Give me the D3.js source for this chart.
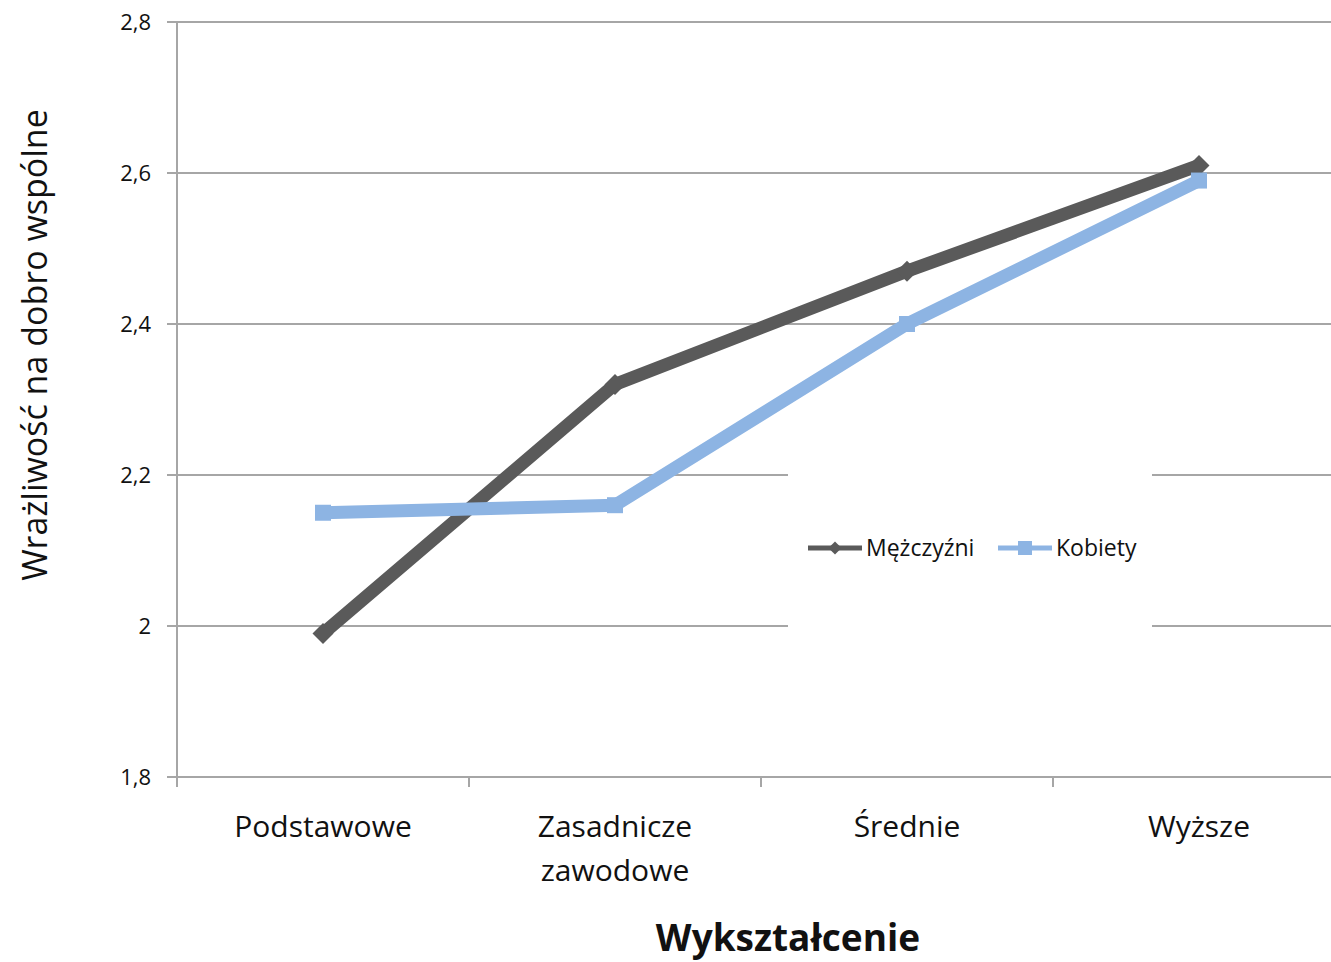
<!DOCTYPE html>
<html>
<head>
<meta charset="utf-8">
<script src="https://cdn.jsdelivr.net/npm/d3@7"></script>
<style>
  body { margin: 0; background: #fff; }
  svg { display: block; font-family: "Open Sans", "Noto Sans", sans-serif; }
</style>
</head>
<body>
<div id="container"></div>
<script>
const width = 1331;
const height = 962;

// DATA
const categories = ["Podstawowe", "Zasadnicze zawodowe", "Średnie", "Wyższe"];
const categoryLines = [["Podstawowe"], ["Zasadnicze", "zawodowe"], ["Średnie"], ["Wyższe"]];
const men = [1.99, 2.32, 2.47, 2.61];
const women = [2.15, 2.16, 2.40, 2.59];
const yTicks = [1.8, 2.0, 2.2, 2.4, 2.6, 2.8];
const seriesNames = ["Mężczyźni", "Kobiety"];

const svg = d3.select("div#container").append("svg")
    .attr("width", width)
    .attr("height", height);

// SCALES
const x = d3.scaleBand().domain(categories).range([177, 1345]);
const y = d3.scaleLinear().domain([1.8, 2.8]).range([777, 22]);

// GRID
svg.append("g")
    .selectAll("line")
    .data(yTicks)
    .enter()
    .append("line")
    .attr("x1", 167)
    .attr("x2", width)
    .attr("y1", d => y(d))
    .attr("y2", d => y(d))
    .attr("stroke", "#a6a6a6")
    .attr("stroke-width", 2);

// Y AXIS
svg.append("line")
    .attr("x1", 177).attr("x2", 177)
    .attr("y1", y(2.8)).attr("y2", 787)
    .attr("stroke", "#a6a6a6")
    .attr("stroke-width", 2);

svg.append("g")
    .selectAll("text")
    .data(yTicks)
    .enter()
    .append("text")
    .attr("x", 151)
    .attr("y", d => y(d))
    .attr("dy", "0.35em")
    .attr("text-anchor", "end")
    .attr("font-size", 22)
    .attr("fill", "#111")
    .text(d => d === 2 ? "2" : d3.format(".1f")(d).replace(".", ","));

// X AXIS ticks
svg.append("g")
    .selectAll("line")
    .data(categories)
    .enter()
    .append("line")
    .attr("x1", d => x(d))
    .attr("x2", d => x(d))
    .attr("y1", 777)
    .attr("y2", 787)
    .attr("stroke", "#a6a6a6")
    .attr("stroke-width", 2);

const xl = svg.append("g")
    .selectAll("text")
    .data(categories)
    .enter()
    .append("text")
    .attr("text-anchor", "middle")
    .attr("font-size", 30)
    .attr("fill", "#111");

xl.each(function (d, i) {
    const t = d3.select(this);
    categoryLines[i].forEach((s, j) => {
        t.append("tspan")
            .attr("x", x(d) + x.bandwidth() / 2)
            .attr("y", 837 + j * 44)
            .text(s);
    });
});

// TITLES
svg.append("text")
    .attr("x", 788)
    .attr("y", 951)
    .attr("text-anchor", "middle")
    .attr("font-size", 37)
    .attr("font-weight", "bold")
    .attr("fill", "#111")
    .text("Wykształcenie");

svg.append("text")
    .attr("transform", "translate(47,345) rotate(-90)")
    .attr("text-anchor", "middle")
    .attr("font-size", 34)
    .attr("fill", "#111")
    .text("Wrażliwość na dobro wspólne");

// LINES
const cx = d => x(d) + x.bandwidth() / 2;
const line = d3.line()
    .x((d, i) => cx(categories[i]))
    .y(d => y(d));

const colors = ["#5a5a5a", "#8db4e3"];
const data = [men, women];

data.forEach((vals, k) => {
    svg.append("path")
        .attr("d", line(vals))
        .attr("fill", "none")
        .attr("stroke", colors[k])
        .attr("stroke-width", 13)
        .attr("stroke-linejoin", "miter");
});

// markers
const diamond = d3.symbol().type(d3.symbolDiamond2).size(280);
svg.append("g")
    .selectAll("path")
    .data(men)
    .enter()
    .append("path")
    .attr("d", diamond)
    .attr("transform", (d, i) => "translate(" + cx(categories[i]) + "," + y(d) + ")")
    .attr("fill", colors[0]);

svg.append("g")
    .selectAll("rect")
    .data(women)
    .enter()
    .append("rect")
    .attr("x", (d, i) => cx(categories[i]) - 8)
    .attr("y", d => y(d) - 8)
    .attr("width", 16)
    .attr("height", 16)
    .attr("fill", colors[1]);

// LEGEND
const lg = svg.append("g");
lg.append("rect")
    .attr("x", 788).attr("y", 470)
    .attr("width", 364).attr("height", 163)
    .attr("fill", "#fff");

const legendX = [808, 998];
seriesNames.forEach((name, k) => {
    const lx = legendX[k];
    lg.append("line")
        .attr("x1", lx).attr("x2", lx + 54)
        .attr("y1", 548).attr("y2", 548)
        .attr("stroke", colors[k])
        .attr("stroke-width", 5);
    if (k === 0) {
        lg.append("path")
            .attr("d", d3.symbol().type(d3.symbolDiamond2).size(110)())
            .attr("transform", "translate(" + (lx + 27) + ",548)")
            .attr("fill", colors[0]);
    } else {
        lg.append("rect")
            .attr("x", lx + 20).attr("y", 541)
            .attr("width", 14).attr("height", 14)
            .attr("fill", colors[1]);
    }
    lg.append("text")
        .attr("x", lx + 58)
        .attr("y", 548)
        .attr("dy", "0.35em")
        .attr("font-size", 23)
        .attr("fill", "#111")
        .text(name);
});
</script>
</body>
</html>
